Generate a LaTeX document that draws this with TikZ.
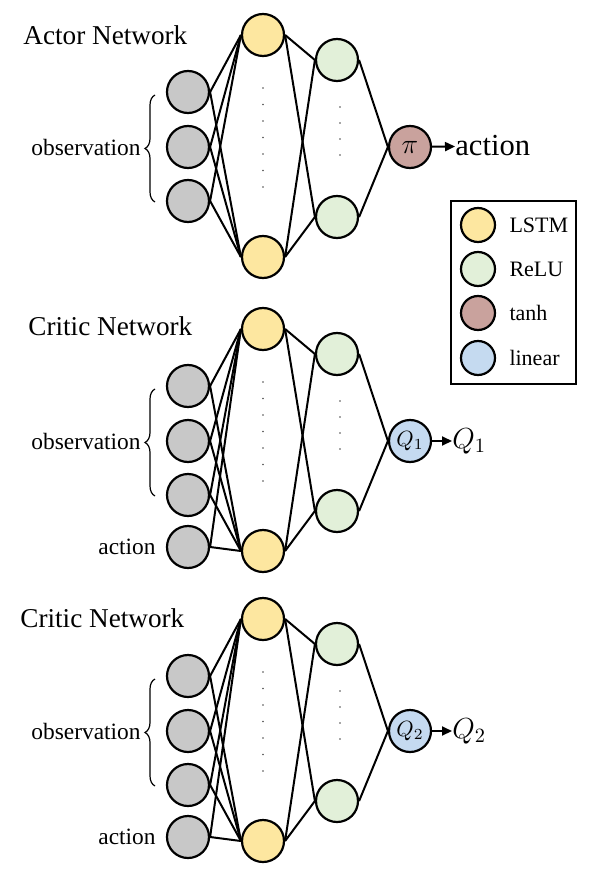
\documentclass[tikz,border=0pt]{standalone}
\usepackage{fix-cm}
\usepackage{fontspec}
\setmainfont{Liberation Serif}
\usetikzlibrary{arrows.meta, positioning, decorations.pathreplacing}

\definecolor{inputgray}{HTML}{C8C8C8}
\definecolor{lstmyellow}{HTML}{FDE7A0}
\definecolor{relugreen}{HTML}{E2F0D9}
\definecolor{tanhbrown}{HTML}{C9A29D}
\definecolor{linblue}{HTML}{C5DAF0}

\begin{document}
\begin{tikzpicture}[x=0.5pt, y=-0.5pt,
    neuron/.style={circle, draw, line width=1.1pt, minimum size=21pt, inner sep=0pt},
    legneuron/.style={circle, draw, line width=1.1pt, minimum size=17pt, inner sep=0pt},
    link/.style={line width=1pt},
    outarrow/.style={line width=1pt, -{Triangle[length=5pt,width=4.5pt]}},
    netbrace/.style={line width=0.6pt, decorate, decoration={brace, amplitude=5pt}},
    title/.style={anchor=base west, inner sep=0pt, font=\fontsize{13.6}{16}\selectfont},
    lbl/.style={anchor=east, inner sep=0pt, font=\fontsize{11.7}{14}\selectfont}]

\useasboundingbox (0,0) rectangle (598,877);

% the three networks share the same body
\foreach \net/\dy in {a/0, c/294, d/584} {
    \foreach \k/\yy in {1/92, 2/147, 3/201}
        \node[neuron, fill=inputgray] (\net-i\k) at (188,{\yy+\dy}) {};
    \node[neuron, fill=lstmyellow] (\net-l1) at (263,{35+\dy}) {};
    \node[neuron, fill=lstmyellow] (\net-l2) at (263,{257+\dy}) {};
    \node[neuron, fill=relugreen] (\net-r1) at (337,{60+\dy}) {};
    \node[neuron, fill=relugreen] (\net-r2) at (337,{217+\dy}) {};
    \foreach \yy in {88,104.5,...,188}
        \fill[black!70] (263,{\yy+\dy}) circle (0.9);
    \foreach \yy in {107,123,...,156}
        \fill[black!70] (340,{\yy+\dy}) circle (0.9);
    \foreach \k in {1,2,3}
        \foreach \j in {1,2}
            \draw[link] (\net-i\k.east) -- (\net-l\j.west);
    \foreach \k in {1,2}
        \foreach \j in {1,2}
            \draw[link] (\net-l\k.east) -- (\net-r\j.west);
    \draw[netbrace] (155,{202+\dy}) -- (155,{95+\dy});
    \node[lbl] (\net-obs) at (141,{147+\dy}) {observation};
}

% actor
\node[title] (a-title) at (23,45) {Actor Network};
\node[neuron, fill=tanhbrown, font=\fontsize{14}{16}\selectfont] (a-out) at (410,147) {$\pi$};
\node[anchor=west, inner sep=0pt, font=\fontsize{15.3}{18}\selectfont] (a-act) at (455,146) {action};
\foreach \j in {1,2}
    \draw[link] (a-r\j.east) -- (a-out.west);
\draw[outarrow] (a-out) -- (a-act);

% critics
\node[title] (c-title) at (28,335) {Critic Network};
\node[title] (d-title) at (20,627) {Critic Network};
\foreach \net/\dy/\q in {c/294/1, d/584/2} {
    \node[neuron, fill=inputgray] (\net-i4) at (188,{253+\dy}) {};
    \node[lbl] (\net-act) at (156,{253+\dy}) {action};
    \foreach \j in {1,2}
        \draw[link] (\net-i4.east) -- (\net-l\j.west);
    \node[neuron, fill=linblue, font=\fontsize{11}{13}\selectfont] (\net-out) at (410,{147+\dy}) {$Q_\q$};
    \node[anchor=west, inner sep=0pt, font=\fontsize{14.5}{17}\selectfont] (\net-q) at (452,{147+\dy}) {$Q_\q$};
    \foreach \j in {1,2}
        \draw[link] (\net-r\j.east) -- (\net-out.west);
    \draw[outarrow] (\net-out) -- (\net-q);
}

% legend
\node[draw, line width=1.1pt, minimum width=62.5pt, minimum height=91.5pt, inner sep=0pt] (legend) at (513.5,292.5) {};
\foreach \k/\yy/\col/\txt in {1/225/lstmyellow/LSTM, 2/269/relugreen/ReLU, 3/313/tanhbrown/tanh, 4/358/linblue/linear} {
    \node[legneuron, fill=\col] (leg\k) at (478,\yy) {};
    \node[inner sep=0pt, right=6.5pt of leg\k, font=\fontsize{11}{13}\selectfont] (legtxt\k) {\txt};
}
\end{tikzpicture}
\end{document}
